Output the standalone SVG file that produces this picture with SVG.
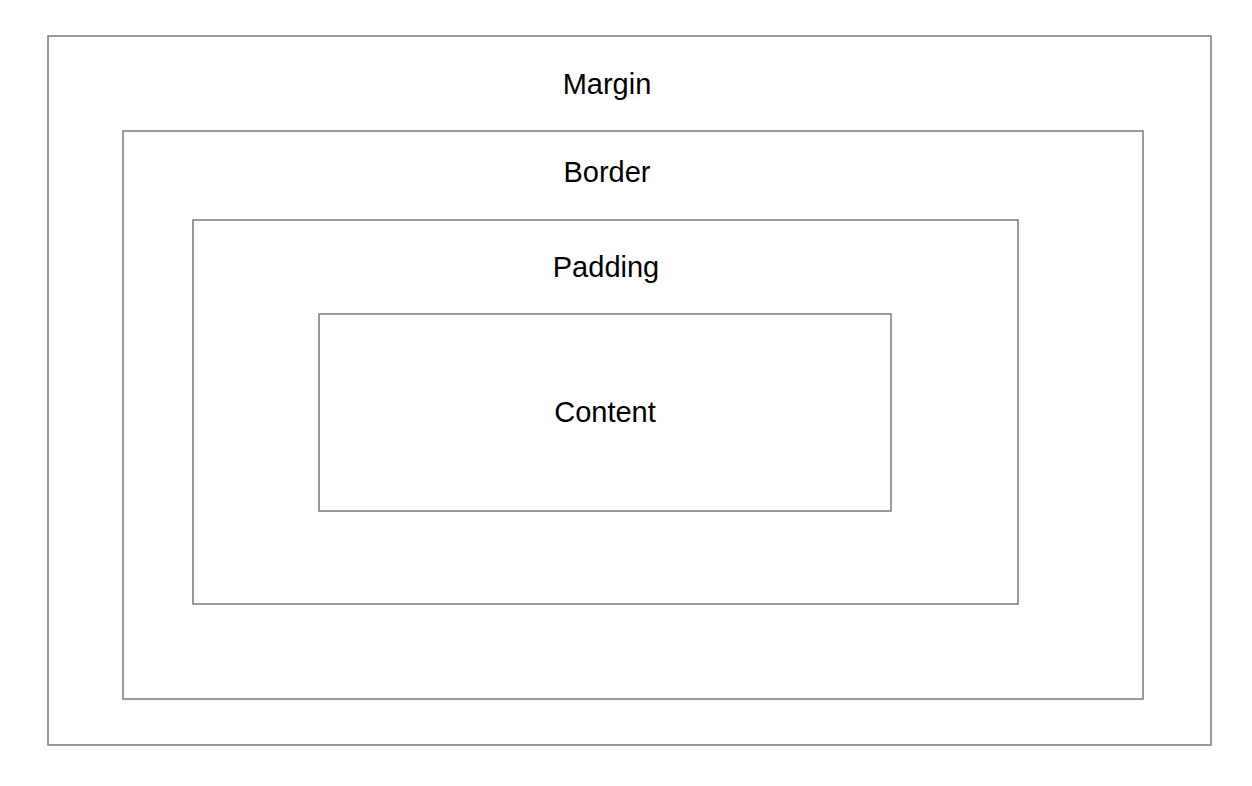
<svg xmlns="http://www.w3.org/2000/svg" width="1252" height="786" viewBox="0 0 1252 786">
<style>
.box{fill:none;stroke:#7a7a7a;stroke-width:1.5}
.lbl{font-family:"Liberation Sans",Arial,sans-serif;font-size:29px;fill:#000;text-anchor:middle}
</style>
<rect width="1252" height="786" fill="#fff"/>
<g id="margin"><rect class="box" x="48" y="36" width="1163" height="709"/><text class="lbl" x="607" y="94">Margin</text></g>
<g id="border"><rect class="box" x="123" y="131" width="1020" height="568"/><text class="lbl" x="607" y="182">Border</text></g>
<g id="padding"><rect class="box" x="193" y="220" width="825" height="384"/><text class="lbl" x="606" y="277">Padding</text></g>
<g id="content"><rect class="box" x="319" y="314" width="572" height="197"/><text class="lbl" x="605" y="422">Content</text></g>
<g id="connectors"></g>
</svg>
